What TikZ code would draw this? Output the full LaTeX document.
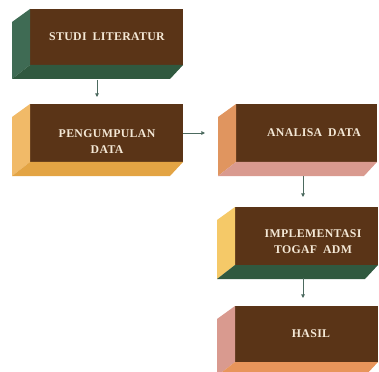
\documentclass[tikz,border=0pt]{standalone}
\usepackage{fontspec}
\newfontfamily\slabfont[LetterSpace=3,WordSpace=1.8]{Liberation Serif}
\usetikzlibrary{arrows.meta}

% slab colours
\definecolor{slabbrown}{HTML}{5A3417}
\definecolor{mossleft}{HTML}{3F6B54}
\definecolor{mossbottom}{HTML}{30593F}
\definecolor{sandleft}{HTML}{F1BA68}
\definecolor{sandbottom}{HTML}{E3A444}
\definecolor{peachleft}{HTML}{E0955F}
\definecolor{roseleft}{HTML}{D99A8F}
\definecolor{honeyleft}{HTML}{F5C968}
\definecolor{orangebottom}{HTML}{E8955B}
\definecolor{cream}{HTML}{F4E8D6}
\definecolor{arrowgrey}{HTML}{4C6A5F}

\tikzset{
  front/.style={rectangle, fill=slabbrown, inner sep=0pt, outer sep=0pt},
  label/.style={text=cream, font=\slabfont\bfseries\fontsize{11.8}{16.5}\selectfont, align=center, inner sep=0pt},
  flow/.style={draw=arrowgrey, line width=0.9pt, -{Triangle[length=3.6pt,width=3.6pt]}}
}

% \slab{name}{x0}{y0}{x1}{y1}{left face}{bottom face}
\newcommand{\slab}[7]{%
  \node[front, minimum width={(#4-#2)*1pt}, minimum height={(#5-#3)*1pt}]
    (#1) at ({(#2+#4)/2},{(#3+#5)/2}) {};
  \fill[#6] (#1.north west) -- ++(-18,13) -- ([shift={(-18,14)}]#1.south west)
    -- (#1.south west) -- cycle;
  \fill[#7] (#1.south west) -- (#1.south east) -- ++(-13,14)
    -- ([shift={(-18,14)}]#1.south west) -- cycle;
}

\begin{document}
\begin{tikzpicture}[x=1pt,y=-1pt]
  \useasboundingbox (0,0) rectangle (379,371);

  \slab{s1}{30}{9}{183}{65}{mossleft}{mossbottom}
  \slab{s2}{30}{104}{183}{162}{sandleft}{sandbottom}
  \slab{s3}{236}{104}{377}{162}{peachleft}{roseleft}
  \slab{s4}{235}{207}{378}{265}{honeyleft}{mossbottom}
  \slab{s5}{235}{306}{378}{362}{roseleft}{orangebottom}

  \node[label] (t1) at (107,37) {STUDI LITERATUR};
  \node[label] (t2) at (107,141.5) {PENGUMPULAN\\DATA};
  \node[label] (t3) at (314,133) {ANALISA DATA};
  \node[label] (t4) at (313,241.5) {IMPLEMENTASI\\TOGAF ADM};
  \node[label] (t5) at (311,334) {HASIL};

  \draw[flow] ([shift={(-9.5,15)}]s1.south) -- ([shift={(-9.5,-7)}]s2.north);
  \draw[flow] (s2.east) -- ([xshift=-31]s3.west);
  \draw[flow] ([shift={(-3.5,14)}]s3.south) -- ([shift={(-3.5,-10)}]s4.north);
  \draw[flow] ([shift={(-3.5,13)}]s4.south) -- ([shift={(-3.5,-8)}]s5.north);
\end{tikzpicture}
\end{document}
